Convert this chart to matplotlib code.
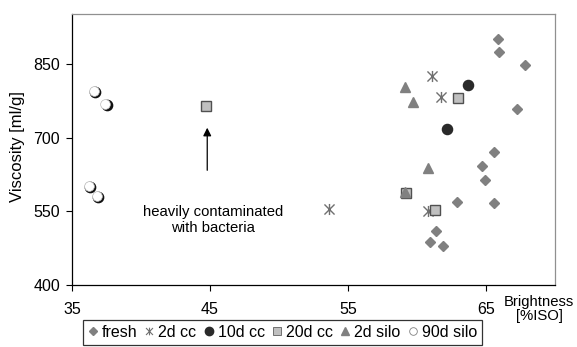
import matplotlib
matplotlib.use("Agg")
import matplotlib.pyplot as plt
from matplotlib.path import Path
from matplotlib.lines import Line2D
import matplotlib.transforms as mtransforms

plt.rcParams['font.family'] = ['Liberation Sans', 'DejaVu Sans']

# ---- data ----
fresh_x = [65.85, 65.94, 67.8, 67.27, 65.58, 64.73, 64.93, 62.87, 65.6, 61.35, 60.94, 61.86]
fresh_y = [901, 875, 849, 759, 670, 643, 614, 569, 568, 511, 488, 480]
cc2_x = [61.1, 61.76, 53.6, 60.82]
cc2_y = [825, 782, 554, 550]
cc10_x = [63.7, 62.2]
cc10_y = [808, 718]
cc20_x = [63.0, 59.18, 61.3, 44.69]
cc20_y = [780, 588, 553, 765]
silo2_x = [59.13, 59.69, 60.77, 59.13]
silo2_y = [803, 772, 639, 589]
silo90_x = [36.57, 37.42, 36.21, 36.79]
silo90_y = [796, 769, 602, 582]

labels = ['fresh', '2d cc', '10d cc', '20d cc', '2d silo', '90d silo']
x_ticks = [35, 45, 55, 65]
y_ticks = [400, 550, 700, 850]

star = Path([(-1, -1), (1, 1), (-1, 1), (1, -1), (0, -1.1), (0, 1.1)],
            [Path.MOVETO, Path.LINETO, Path.MOVETO, Path.LINETO, Path.MOVETO, Path.LINETO])

fig = plt.figure(figsize=(5.77, 3.47), dpi=100)
ax = fig.add_axes([72/577, 1-285/347, (555-72)/577, (285-14)/347])

ax.plot(fresh_x, fresh_y, ls='none', marker='D', ms=5.2, mfc='#808080', mec='#808080')
ax.plot(cc2_x, cc2_y, ls='none', marker=star, ms=8, mfc='none', mec='#707070', mew=1.0)
ax.plot(cc10_x, cc10_y, ls='none', marker='o', ms=7.3, mfc='#2a2a2a', mec='#2a2a2a')
ax.plot(cc20_x, cc20_y, ls='none', marker='s', ms=6.8, mfc='#c0c0c0', mec='#505050', mew=1.0)
ax.plot(silo2_x, silo2_y, ls='none', marker='^', ms=7, mfc='#808080', mec='#808080')
shadow = mtransforms.offset_copy(ax.transData, fig=fig, x=1.0, y=-1.0, units='points')
ax.plot(silo90_x, silo90_y, ls='none', marker='o', ms=7.4, mfc='#111111', mec='#111111',
        transform=shadow)
ax.plot(silo90_x, silo90_y, ls='none', marker='o', ms=7.0, mfc='white', mec='#bbbbbb', mew=0.5)

ax.annotate('', xy=(44.8, 726), xytext=(44.8, 628),
            arrowprops=dict(arrowstyle='-|>', color='black', lw=0.9, mutation_scale=12))
ax.text(45.2, 533, 'heavily contaminated\nwith bacteria', ha='center', va='center',
        fontsize=10.7, linespacing=1.2)

ax.set_xlim(35, 70)
ax.set_ylim(400, 952)
ax.set_xticks(x_ticks)
ax.set_yticks(y_ticks)
ax.tick_params(labelsize=11.5, direction='out', length=4, width=0.8)
ax.tick_params(axis='x', pad=8.5)
ax.tick_params(axis='y', pad=4.5)
for s in ['left', 'bottom']:
    ax.spines[s].set_color('black')
    ax.spines[s].set_linewidth(0.9)
for s in ['top', 'right']:
    ax.spines[s].set_color('#909090')
    ax.spines[s].set_linewidth(0.9)

ax.set_ylabel('Viscosity [ml/g]', fontsize=12)
ax.yaxis.set_label_coords((25.5-72)/483, 0.51)
fig.text(539/577, 1-309/347, 'Brightness\n[%ISO]', ha='center', va='center', fontsize=10.7,
         linespacing=1.0)

handles = [
    Line2D([], [], ls='none', marker='D', ms=3.8, mfc='#808080', mec='#808080'),
    Line2D([], [], ls='none', marker=star, ms=5.5, mfc='none', mec='#707070', mew=0.8),
    Line2D([], [], ls='none', marker='o', ms=6, mfc='#2a2a2a', mec='#2a2a2a'),
    Line2D([], [], ls='none', marker='s', ms=5.5, mfc='#c0c0c0', mec='#707070', mew=0.7),
    Line2D([], [], ls='none', marker='^', ms=5.5, mfc='#808080', mec='#808080'),
    Line2D([], [], ls='none', marker='o', ms=5.5, mfc='white', mec='#808080', mew=0.6),
]
leg = fig.legend(handles, labels, loc='upper left', bbox_to_anchor=(83/577, 1-320/347),
                 ncol=6, fontsize=11.5, frameon=True, fancybox=False, handlelength=0.6,
                 handletextpad=0.25, columnspacing=0.48, borderpad=0.3, borderaxespad=0)
leg.get_frame().set_edgecolor('black')
leg.get_frame().set_linewidth(0.9)

fig.savefig('out.png', dpi=100)
